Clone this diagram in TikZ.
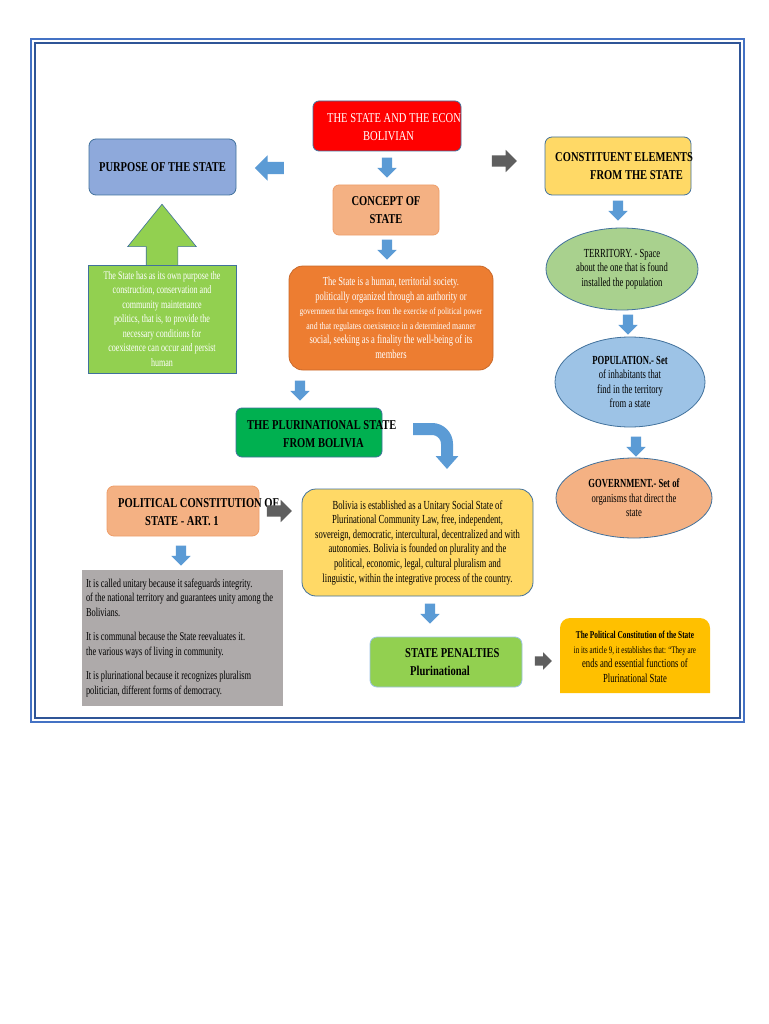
\documentclass[tikz,border=0pt]{standalone}
\usepackage{fontspec}
\setmainfont{Liberation Serif}[FakeStretch=0.78]
\newfontfamily\bodyfont{Liberation Serif}[FakeStretch=0.70]
\usetikzlibrary{arrows.meta, shapes.arrows, shapes.geometric, positioning}
\definecolor{arrblue}{HTML}{5B9BD5}
\definecolor{arrgray}{HTML}{5F5F5F}
\definecolor{boxline}{HTML}{41719C}
\definecolor{titlered}{HTML}{FF0000}
\definecolor{purposeblue}{HTML}{8EA9DB}
\definecolor{paleyellow}{HTML}{FFD966}
\definecolor{salmon}{HTML}{F4B183}
\definecolor{salmonline}{HTML}{EE9E6A}
\definecolor{conceptorange}{HTML}{ED7D31}
\definecolor{orangeline}{HTML}{C9692A}
\definecolor{leafgreen}{HTML}{92D050}
\definecolor{boldgreen}{HTML}{00B050}
\definecolor{territorygreen}{HTML}{A9D18E}
\definecolor{populationblue}{HTML}{9DC3E6}
\definecolor{notegray}{HTML}{AEAAAA}
\definecolor{gold}{HTML}{FFC000}
\definecolor{frameouter}{HTML}{4472C4}
\definecolor{frameinner}{HTML}{2F5597}

\begin{document}
\begin{tikzpicture}[x=1pt, y=-1pt,
        box/.style={draw=boxline, line width=0.8pt, rounded corners=7pt, inner sep=2pt},
        head/.style={align=center, inner sep=2pt, font=\fontsize{13.5}{18}\selectfont\bfseries},
        txtbox/.style={align=center, inner sep=2pt, font=\bodyfont\fontsize{11.5}{14.5}\selectfont},
        oval/.style={ellipse, draw=boxline, line width=0.8pt, inner sep=0pt, align=center, font=\bodyfont\fontsize{12.3}{14.5}\selectfont},
        downarr/.style={single arrow, shape border rotate=270, fill=arrblue, inner xsep=5pt, inner ysep=0pt,
          minimum width=19pt, minimum height=20pt, single arrow head extend=4.5pt},
        grayarr/.style={single arrow, fill=arrgray, inner xsep=0pt, inner ysep=5.5pt,
          minimum width=22pt, minimum height=25pt, single arrow head extend=5.5pt},
        >={Triangle[width=22pt,length=13pt]}
        ]

        \useasboundingbox (0,0) rectangle (768,1024);
        \fill[white] (0,0) rectangle (768,1024);
        \draw[frameouter, line width=1.5pt] (31,39) rectangle (744,722);
        \draw[frameinner, line width=2.5pt] (35,43) rectangle (740,718);

        \node[box, fill=titlered, minimum width=148pt, minimum height=50pt, rounded corners=6pt] (title) at (387,126) {};
        \begin{scope}
          \clip (313,101) rectangle (461,151);
          \node[head, align=left, anchor=west, text=white, font=\fontsize{13.5}{18}\selectfont] (titletext) at (325,127) {THE STATE AND THE ECON\\\hspace{36pt}BOLIVIAN};
        \end{scope}

        \node[box, fill=purposeblue, minimum width=147pt, minimum height=56pt, head] (purpose) at (162.5,167) {PURPOSE OF THE STATE};
        \node[box, fill=paleyellow, minimum width=146pt, minimum height=58pt] (elements) at (618,166) {};
        \node[head, align=left, anchor=west] (elementstext) at (553,166) {CONSTITUENT ELEMENTS\\\hspace{35pt}FROM THE STATE};
        \node[box, fill=salmon, draw=salmonline, minimum width=106pt, minimum height=50pt, rounded corners=6pt, head] (concept) at (386,210) {CONCEPT OF\\STATE};

        \node[downarr] (a1) at (387,165) {};
        \node[downarr] (a2) at (387,247) {};
        \node[single arrow, shape border rotate=180, fill=arrblue, inner xsep=0pt, inner ysep=6pt, minimum width=25pt,
          minimum height=29pt, single arrow head extend=6.5pt] (toleft) at (272.5,168) {};
        \node[grayarr] (toright) at (501.5,161) {};

        \node[single arrow, shape border rotate=90, fill=leafgreen, draw=boxline, line width=0.6pt, inner xsep=15.5pt, inner ysep=0pt,
          minimum width=68pt, minimum height=62pt, single arrow head extend=18.5pt, single arrow tip angle=78] (uparr) at (162,245) {};
        \node[txtbox, draw=boxline, line width=0.8pt, fill=leafgreen, text=white, minimum width=148pt, minimum height=108pt] (purposetext) at (162,319)
          {The State has as its own purpose the\\construction, conservation and\\community maintenance\\politics, that is, to provide the\\necessary conditions for\\coexistence can occur and persist\\human};

        \node[txtbox, draw=orangeline, line width=0.8pt, fill=conceptorange, rounded corners=14pt, text=white, minimum width=204pt, minimum height=104pt,
          font=\bodyfont\fontsize{12.2}{14.5}\selectfont] (concepttext) at (391,318)
          {The State is a human, territorial society.\\politically organized through an authority or\\{\rmfamily\fontsize{9.5}{14.5}\selectfont government that emerges from the exercise of political power}\\{\rmfamily\fontsize{10}{14.5}\selectfont and that regulates coexistence in a determined manner}\\social, seeking as a finality the well-being of its\\members};

        \node[oval, fill=territorygreen, minimum width=152pt, minimum height=82pt] (territory) at (622,269) {TERRITORY. - Space\\about the one that is found\\installed the population};
        \node[oval, fill=populationblue, minimum width=150pt, minimum height=90pt] (population) at (630,382) {\textbf{POPULATION.- Set}\\of inhabitants that\\find in the territory\\from a state};
        \node[oval, fill=salmon, minimum width=156pt, minimum height=80pt] (government) at (634,498) {\textbf{GOVERNMENT.- Set of}\\organisms that direct the\\state};
        \node[downarr] (a4) at (618,208) {};
        \node[downarr] (a5) at (628,322) {};
        \node[downarr] (a6) at (636,444) {};

        \node[downarr] (a3) at (300,388) {};
        \node[box, fill=boldgreen, minimum width=146pt, minimum height=49pt, rounded corners=6pt] (pluri) at (309,432.5) {};
        \node[head, align=left, anchor=west] (pluritext) at (245,434) {THE PLURINATIONAL STATE\\\hspace{36pt}FROM BOLIVIA};

        \coordinate (bendstart) at (413,429);
        \coordinate (bendend) at (447,469);
        \draw[->, arrblue, line width=12pt, rounded corners=15pt] (bendstart) -| (bendend);

        \node[box, fill=salmon, draw=salmonline, minimum width=152pt, minimum height=50pt] (constitution) at (183,511) {};
        \node[head, align=left, anchor=west] (constitutiontext) at (116,512) {POLITICAL CONSTITUTION OF\\\hspace{27pt}STATE - ART. 1};
        \node[grayarr] (toarticle) at (276.5,511) {};

        \node[txtbox, draw=boxline, line width=0.8pt, fill=paleyellow, rounded corners=14pt, minimum width=231pt, minimum height=107pt,
          font=\bodyfont\fontsize{12.3}{14.6}\selectfont] (article) at (417.5,542.5)
          {Bolivia is established as a Unitary Social State of\\Plurinational Community Law, free, independent,\\sovereign, democratic, intercultural, decentralized and with\\autonomies. Bolivia is founded on plurality and the\\political, economic, legal, cultural pluralism and\\linguistic, within the integrative process of the country.};

        \node[downarr] (a7) at (181,553) {};
        \node[txtbox, fill=notegray, align=flush left, text width=193pt, inner sep=4pt, minimum height=136pt, font=\bodyfont\fontsize{12}{14.5}\selectfont] (notes) at (182.5,638)
          {It is called unitary because it safeguards integrity.\\of the national territory and guarantees unity among the\\Bolivians.\\[10pt]It is communal because the State reevaluates it.\\the various ways of living in community.\\[10pt]It is plurinational because it recognizes pluralism\\politician, different forms of democracy.};

        \node[downarr] (a8) at (430,611) {};
        \node[box, fill=leafgreen, draw=populationblue, minimum width=152pt, minimum height=50pt] (penalties) at (446,662) {};
        \node[head, align=left, anchor=west] (penaltiestext) at (403,662) {STATE PENALTIES\\\hspace{5pt}Plurinational};
        \node[grayarr, inner ysep=4.5pt, minimum width=17pt, minimum height=17pt, single arrow head extend=4pt] (toends) at (541,661) {};

        \fill[gold] (560,693) [rounded corners=10pt] -- (560,618) -- (710,618) [sharp corners] -- (710,693) -- cycle;
        \node[txtbox, font=\bodyfont\fontsize{12.3}{14.5}\selectfont] (ends) at (635,657)
          {{\bfseries\fontsize{10.5}{14.5}\selectfont The Political Constitution of the State}\\{\fontsize{10}{14.5}\selectfont in its article 9, it establishes that: “They are}\\ends and essential functions of\\Plurinational State};
      \end{tikzpicture}
\end{document}
